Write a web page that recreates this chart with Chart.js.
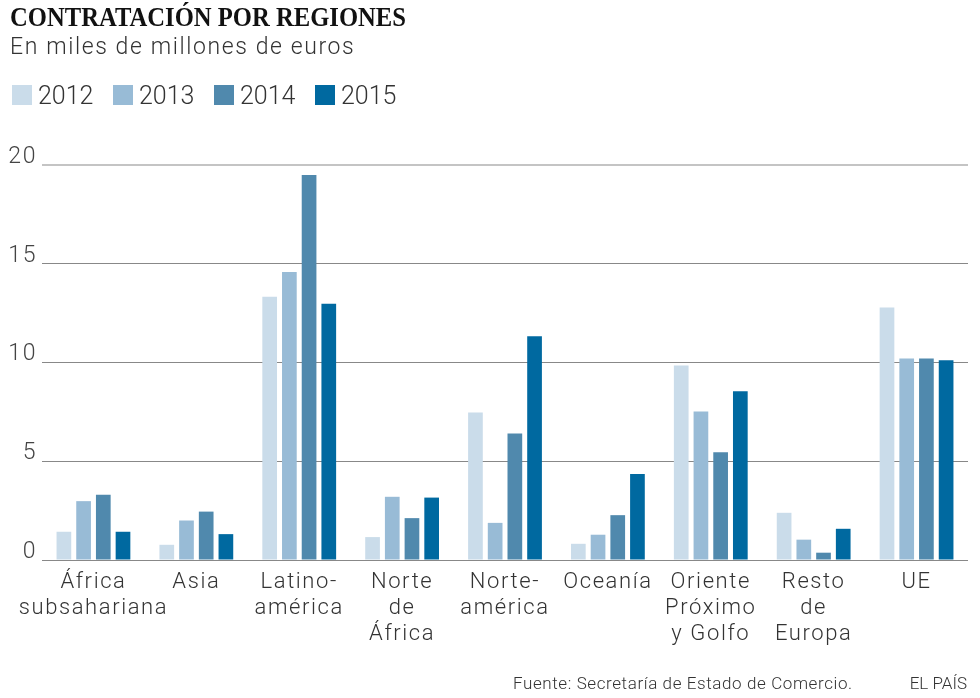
<!DOCTYPE html>
<html>
<head>
<meta charset="utf-8">
<script src="https://cdn.jsdelivr.net/npm/chart.js@4"></script>
<style>
  html, body { margin:0; padding:0; background:#fff; }
  body { width:980px; height:698px; position:relative; overflow:hidden; font-family: Roboto, "Liberation Sans", sans-serif; }
  #wrap { position:absolute; left:0; top:0; width:980px; height:698px; }
  #title { position:absolute; left:10px; top:1px; font-family:"Liberation Serif", serif; font-weight:bold; font-size:28px; color:#111; white-space:nowrap; transform-origin:0 0; }
  #subtitle { position:absolute; left:10px; top:33px; font-weight:300; font-size:23px; letter-spacing:1.6px; color:#333; white-space:nowrap; }
  #legend { position:absolute; left:12px; top:83px; height:26px; }
  .li { position:absolute; top:0; white-space:nowrap; font-weight:300; font-size:25px; color:#333; line-height:26px; }
  .sw { display:inline-block; width:20px; height:20px; vertical-align:top; margin-top:2px; margin-right:6px; }
  #source { position:absolute; left:513px; top:673px; font-weight:300; font-size:17px; letter-spacing:0.6px; color:#333; white-space:nowrap; }
  #brand { position:absolute; right:13px; top:673px; font-weight:300; font-size:17px; color:#333; white-space:nowrap; }
</style>
</head>
<body>
<div id="wrap"><canvas id="c" width="980" height="698"></canvas></div>
<div id="title">CONTRATACIÓN POR REGIONES</div>
<div id="subtitle">En miles de millones de euros</div>
<div id="legend"></div>
<div id="source">Fuente: Secretaría de Estado de Comercio.</div>
<div id="brand">EL PAÍS</div>
<script>
const categories = [
  ["África","subsahariana"],
  ["Asia"],
  ["Latino-","américa"],
  ["Norte","de","África"],
  ["Norte-","américa"],
  ["Oceanía"],
  ["Oriente","Próximo","y Golfo"],
  ["Resto","de","Europa"],
  ["UE"]
];
const years = ["2012","2013","2014","2015"];
const values2012 = [1.43, 0.77, 13.33, 1.16, 7.47, 0.82, 9.85, 2.39, 12.78];
const values2013 = [2.98, 2.00, 14.58, 3.20, 1.88, 1.28, 7.52, 1.03, 10.20];
const values2014 = [3.31, 2.45, 19.50, 2.12, 6.41, 2.27, 5.45, 0.37, 10.20];
const values2015 = [1.43, 1.31, 12.98, 3.16, 11.33, 4.36, 8.55, 1.58, 10.12];
const yTicks = [0, 5, 10, 15, 20];
const colors = ["#cadcea", "#98bbd6", "#5089ad", "#0069a0"];

const seriesValues = [values2012, values2013, values2014, values2015];

// Legend built from the series
const legend = document.getElementById('legend');
const legendX = [0, 101, 202, 303];
years.forEach((y, i) => {
  const d = document.createElement('div');
  d.className = 'li';
  d.style.left = legendX[i] + 'px';
  d.innerHTML = '<span class="sw" style="background:' + colors[i] + '"></span>' + y;
  legend.appendChild(d);
});

// fit title width (condensed serif)
const t = document.getElementById('title');
const tw = t.getBoundingClientRect().width;
t.style.transform = 'scaleX(' + (396 / tw) + ')';

const spacingPlugin = {
  id: 'spacing',
  beforeDraw(chart) { chart.ctx.letterSpacing = '1.6px'; }
};

const ctx = document.getElementById('c');
new Chart(ctx, {
  type: 'bar',
  data: {
    labels: categories,
    datasets: years.map((y, i) => ({
      label: y,
      data: seriesValues[i],
      backgroundColor: colors[i],
      borderWidth: 0,
      categoryPercentage: 0.766,
      barPercentage: 0.746
    }))
  },
  plugins: [spacingPlugin],
  options: {
    responsive: false,
    animation: false,
    devicePixelRatio: 1,
    layout: { padding: { left: 0, right: 12, top: 165, bottom: 0 } },
    plugins: { legend: { display: false }, tooltip: { enabled: false }, title: { display: false } },
    scales: {
      x: {
        afterFit: (s) => { s.height = 138; },
        grid: { display: false, drawTicks: false },
        border: { display: false },
        ticks: {
          color: '#333',
          padding: 10,
          font: { family: 'Roboto', weight: '300', size: 22, lineHeight: 1.18 },
          maxRotation: 0, autoSkip: false
        }
      },
      y: {
        min: 0, max: 20,
        afterFit: (s) => { s.width = 42; },
        afterBuildTicks: (s) => { s.ticks = yTicks.map(v => ({ value: v })); },
        border: { display: false },
        grid: {
          drawTicks: false,
          color: (c) => c.tick && c.tick.value === 20 ? '#c4c4c4' : '#888',
          lineWidth: (c) => c.tick && c.tick.value === 20 ? 2 : 1
        },
        ticks: {
          color: '#444',
          padding: 5,
          labelOffset: -8,
          font: { family: 'Roboto', weight: '300', size: 23 }
        }
      }
    }
  }
});
</script>
</body>
</html>
